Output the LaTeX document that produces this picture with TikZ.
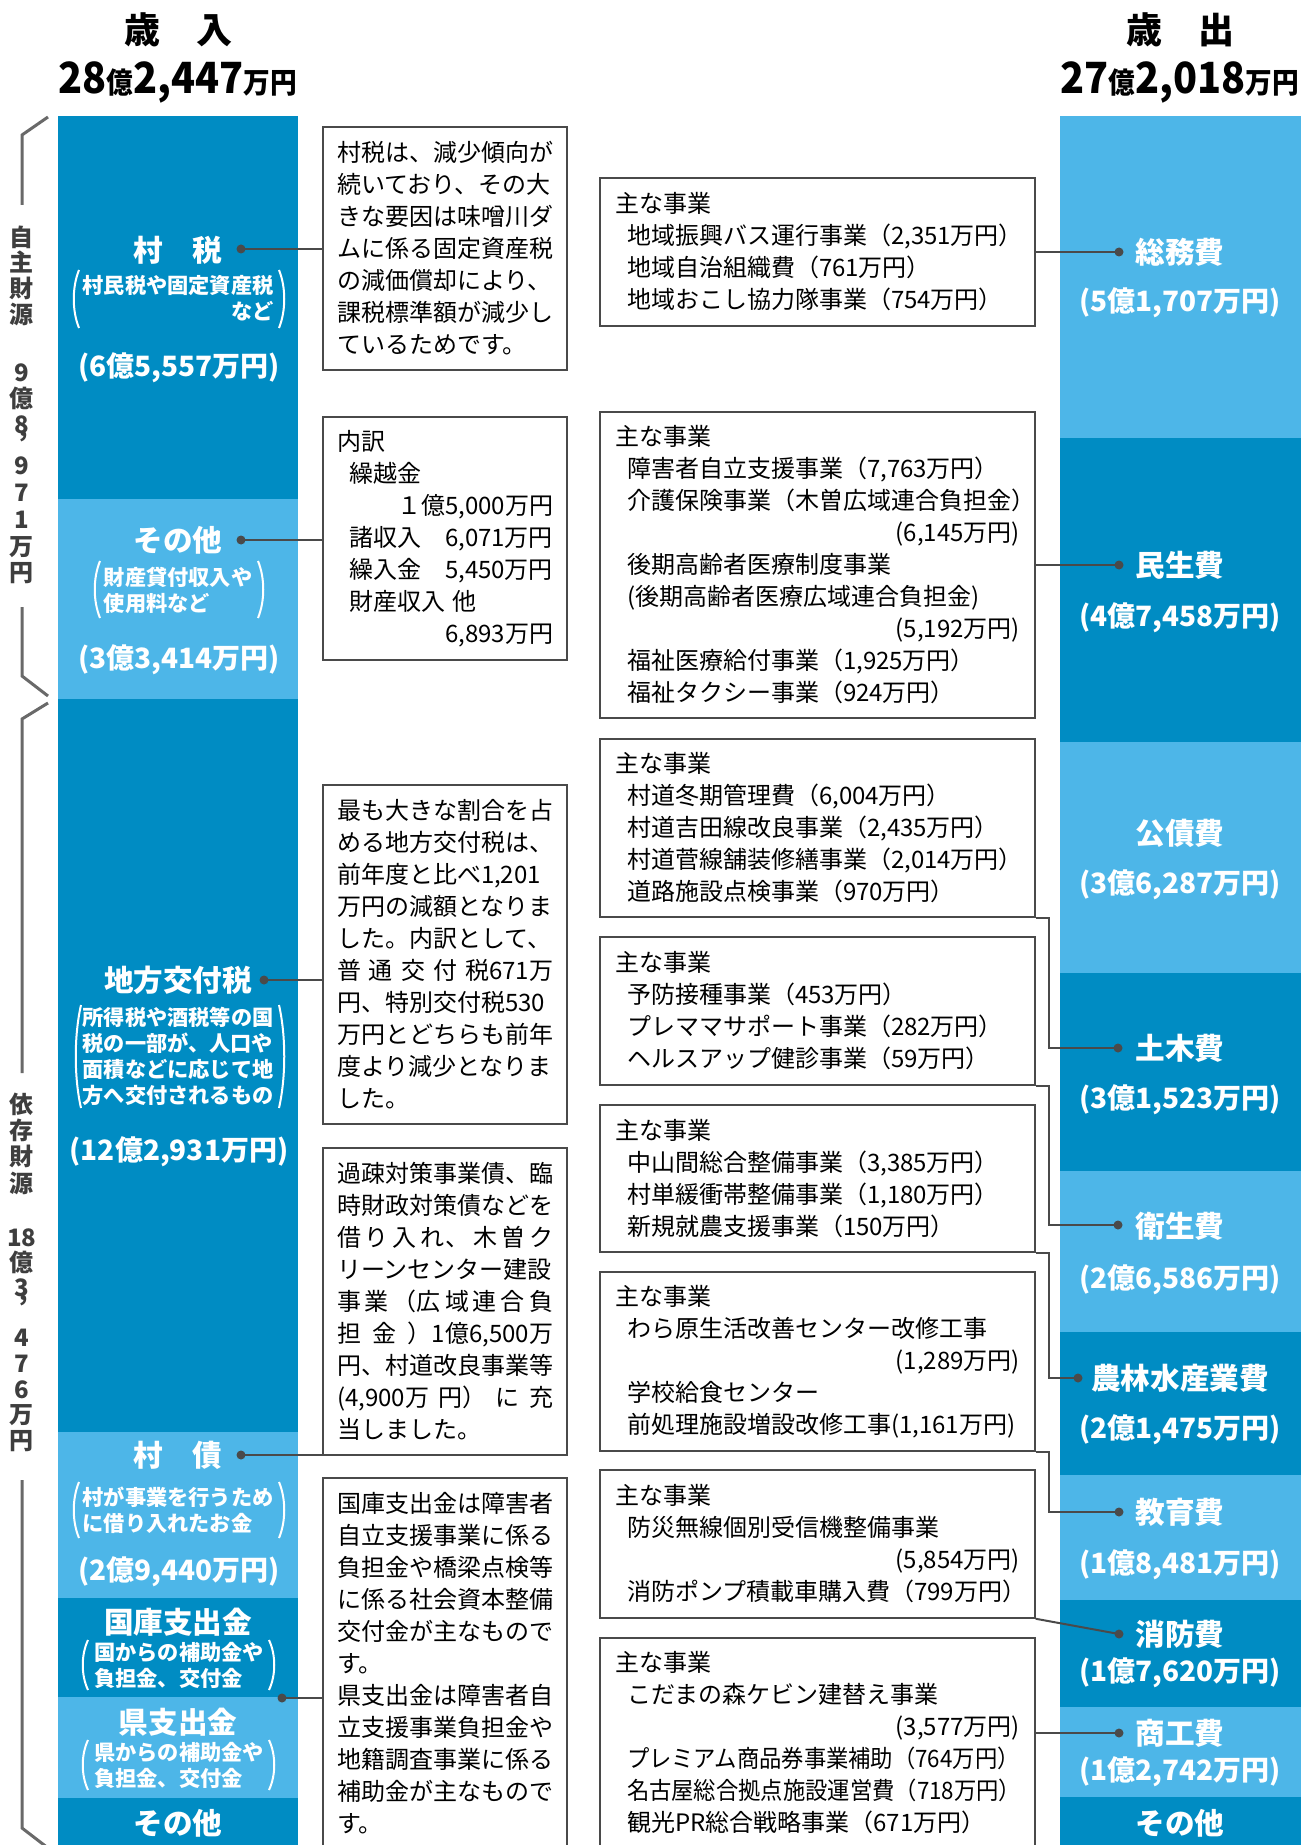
\documentclass[tikz,border=0pt]{standalone}
\usepackage{fontspec}
\usepackage{graphicx}
\setmainfont{Noto Sans CJK JP}
\usetikzlibrary{calc}
\definecolor{dk}{RGB}{0,140,195}
\definecolor{lt}{RGB}{77,182,232}
\definecolor{ln}{RGB}{74,74,74}
\definecolor{br}{RGB}{105,105,105}
\definecolor{vt}{RGB}{62,62,62}
\newcommand\ind{\hspace*{0.5em}}
\newcommand\rl[1]{\makebox[\linewidth][r]{#1}}
\newcommand\jl[1]{\makebox[\linewidth][s]{#1}}
\newcommand\cnd[1]{\scalebox{0.93}[1]{#1}}
\newcommand\bigparens[4]{%
  \draw[pp] ({#1+6},#3) .. controls ({#1-1},{#3+0.3*(#4-#3)}) and ({#1-1},{#4-0.3*(#4-#3)}) .. ({#1+6},#4);
  \draw[pp] ({#2-6},#3) .. controls ({#2+1},{#3+0.3*(#4-#3)}) and ({#2+1},{#4-0.3*(#4-#3)}) .. ({#2-6},#4);}
\newcommand\bignum[2]{\scalebox{0.92}[1]{{\fontsize{21.5}{22}\selectfont #1}{\fontsize{14.5}{15}\selectfont 億}{\fontsize{21.5}{22}\selectfont #2}{\fontsize{14.5}{15}\selectfont 万円}}}
\begin{document}
\begin{tikzpicture}[x=0.5pt,y=-0.5pt,
  note/.style={draw=ln, line width=0.75pt, fill=white, text width=108pt, minimum width=122pt,
    align=left, font=\fontsize{12}{16}\selectfont, inner sep=0pt},
  rnote/.style={note, text width=202.5pt, minimum width=217.5pt},
  lbl/.style={text=white, font=\bfseries\fontsize{14.8}{16}\selectfont, inner sep=0pt},
  sub/.style={text=white, font=\bfseries\fontsize{10.6}{13}\selectfont, inner sep=0pt},
  amt/.style={text=white, font=\bfseries\fontsize{14}{16}\selectfont, inner sep=0pt},
  vch/.style={text=vt, align=center, inner sep=0pt},
  hd/.style={text=black, inner sep=0pt},
  conn/.style={draw=ln, line width=1pt},
  brc/.style={draw=br, line width=1.5pt},
  pp/.style={draw=white, line width=1pt},
  dotm/.style={fill=ln}
]
\useasboundingbox (0,0) rectangle (1312,1845);
\clip (0,0) rectangle (1312,1845);
\fill[white] (0,0) rectangle (1312,1845);

% ---- headers
\node[hd, font=\bfseries\fontsize{18}{18}\selectfont] (hin) at (178,30) {歳　入};
\node[hd, font=\bfseries] (hintot) at (178,82) {\bignum{28}{2,447}};
\node[hd, font=\bfseries\fontsize{18}{18}\selectfont] (hout) at (1180,30) {歳　出};
\node[hd, font=\bfseries] (houttot) at (1180,82) {\bignum{27}{2,018}};

% ---- left column segments
\fill[dk] (58,116) rectangle (298,499);
\fill[lt] (58,499) rectangle (298,699);
\fill[dk] (58,699) rectangle (298,1432);
\fill[lt] (58,1432) rectangle (298,1598);
\fill[dk] (58,1598) rectangle (298,1697);
\fill[lt] (58,1697) rectangle (298,1798);
\fill[dk] (58,1798) rectangle (298,1850);

% ---- right column segments
\fill[lt] (1060,116) rectangle (1301,438);
\fill[dk] (1060,438) rectangle (1301,742);
\fill[lt] (1060,742) rectangle (1301,973);
\fill[dk] (1060,973) rectangle (1301,1171);
\fill[lt] (1060,1171) rectangle (1301,1332);
\fill[dk] (1060,1332) rectangle (1301,1475);
\fill[lt] (1060,1475) rectangle (1301,1600);
\fill[dk] (1060,1600) rectangle (1301,1707);
\fill[lt] (1060,1707) rectangle (1301,1797);
\fill[dk] (1060,1797) rectangle (1301,1850);

% ---- left braces and vertical text
\draw[brc] (48,117) -- (22,135) -- (22,205);
\draw[brc] (22,607) -- (22,676) -- (48,696);
\draw[brc] (48,703) -- (22,719) -- (22,1073);
\draw[brc] (22,1480) -- (22,1828) -- (48,1848);
\node[vch, font=\bfseries\fontsize{12}{12.85}\selectfont] (vjishu) at (22,275.5) {自\\主\\財\\源};
\node[vch, font=\bfseries\fontsize{12}{13}\selectfont] (vjs1) at (22,399) {9\\億\\8};
\node[vch, font=\bfseries\fontsize{12}{13}\selectfont] (vjsc) at (24,437) {,};
\node[vch, font=\bfseries\fontsize{12}{13.4}\selectfont] (vjs2) at (22,520.5) {9\\7\\1\\万\\円};
\node[vch, font=\bfseries\fontsize{12}{13.15}\selectfont] (vizon) at (22,1143.5) {依\\存\\財\\源};
\node[vch, font=\bfseries\fontsize{12}{12.5}\selectfont] (viz1) at (22,1263) {18\\億\\3};
\node[vch, font=\bfseries\fontsize{12}{13}\selectfont] (vizc) at (24,1301) {,};
\node[vch, font=\bfseries\fontsize{12}{12.875}\selectfont] (viz2) at (22,1390.5) {4\\7\\6\\万\\円};

% ---- left labels
\node[lbl] (zei) at (178,250) {村　税};
\node[sub, align=right] (zeis) at (178,298) {村民税や固定資産税\\など};
\bigparens{73}{285}{270}{328}
\node[amt] (zeia) at (179,368) {(6億5,557万円)};

\node[lbl] (sono) at (178,540) {その他};
\node[sub, align=left] (sonos) at (178,590) {財産貸付収入や\\使用料など};
\bigparens{94}{264}{561}{618}
\node[amt] (sonoa) at (179,660) {(3億3,414万円)};

\node[lbl] (chiho) at (178,980) {地方交付税};
\node[sub, align=left] (chihos) at (178,1056) {所得税や酒税等の国\\税の一部が、人口や\\面積などに応じて地\\方へ交付されるもの};
\bigparens{75}{285}{1005}{1108}
\node[amt] (chihoa) at (179,1152) {(12億2,931万円)};

\node[lbl] (son) at (178,1455) {村　債};
\node[sub, align=left] (sons) at (178,1510) {村が事業を行うため\\に借り入れたお金};
\bigparens{73}{285}{1482}{1538}
\node[amt] (sona) at (179,1572) {(2億9,440万円)};

\node[lbl] (koku) at (178,1622) {国庫支出金};
\node[sub, align=left] (kokus) at (179,1665) {国からの補助金や\\負担金、交付金};
\bigparens{82}{275}{1640}{1690}

\node[lbl] (ken) at (178,1722) {県支出金};
\node[sub, align=left] (kens) at (179,1765) {県からの補助金や\\負担金、交付金};
\bigparens{82}{275}{1740}{1790}

\node[lbl] (sono2) at (178,1823) {その他};

% ---- right labels
\node[lbl] (somu) at (1180,252) {総務費};
\node[amt] (somua) at (1180,303) {(5億1,707万円)};
\node[lbl] (minsei) at (1180,565) {民生費};
\node[amt] (minseia) at (1180,618) {(4億7,458万円)};
\node[lbl] (kosai) at (1180,833) {公債費};
\node[amt] (kosaia) at (1180,885) {(3億6,287万円)};
\node[lbl] (doboku) at (1180,1048) {土木費};
\node[amt] (dobokua) at (1180,1100) {(3億1,523万円)};
\node[lbl] (eisei) at (1180,1226) {衛生費};
\node[amt] (eiseia) at (1180,1280) {(2億6,586万円)};
\node[lbl] (norin) at (1180,1378) {農林水産業費};
\node[amt] (norina) at (1180,1430) {(2億1,475万円)};
\node[lbl] (kyoiku) at (1180,1512) {教育費};
\node[amt] (kyoikua) at (1180,1565) {(1億8,481万円)};
\node[lbl] (shobo) at (1180,1634) {消防費};
\node[amt] (shoboa) at (1180,1673) {(1億7,620万円)};
\node[lbl] (shoko) at (1180,1733) {商工費};
\node[amt] (shokoa) at (1180,1772) {(1億2,742万円)};
\node[lbl] (sono3) at (1180,1823) {その他};

% ---- left note boxes
\node[note, minimum height=121.5pt] (b1) at (445,248.5) {村税は、減少傾向が\\続いており、その大\\きな要因は味噌川ダ\\ムに係る固定資産税\\の減価償却により、\\課税標準額が減少し\\ているためです。};
\node[note, minimum height=121.5pt] (b2) at (445,538.5) {内訳\\\ind 繰越金\\\rl{１億5,000万円}\\\jl{\ind 諸収入\hfill 6,071万円}\\\jl{\ind 繰入金\hfill 5,450万円}\\\ind 財産収入 他\\\rl{6,893万円}};
\node[note, minimum height=169.5pt] (b3) at (445,954.5) {最も大きな割合を占\\める地方交付税は、\\前年度と比べ1,201\\万円の減額となりま\\した。内訳として、\\\jl{普\hfil 通\hfil 交\hfil 付\hfil 税671万}\\円、特別交付税530\\万円とどちらも前年\\度より減少となりま\\した。};
\node[note, minimum height=153.5pt] (b4) at (445,1301.5) {過疎対策事業債、臨\\時財政対策債などを\\\jl{借\hfil り\hfil 入\hfil れ、\hfil 木\hfil 曽\hfil ク}\\リーンセンター建設\\\jl{事\hfil 業\hfil （広\hfil 域\hfil 連\hfil 合\hfil 負}\\\jl{担\hfil 金\hfil ）1億6,500万}\\円、村道改良事業等\\\jl{(4,900万\hfil 円）\hfil に\hfil 充}\\当しました。};
\node[note, minimum height=185pt] (b5) at (445,1663) {国庫支出金は障害者\\自立支援事業に係る\\負担金や橋梁点検等\\に係る社会資本整備\\交付金が主なもので\\す。\\県支出金は障害者自\\立支援事業負担金や\\地籍調査事業に係る\\補助金が主なもので\\す。};

% ---- right note boxes
\node[rnote, minimum height=74pt] (r1) at (817.5,252) {主な事業\\\ind 地域振興バス運行事業（2,351万円）\\\ind 地域自治組織費（761万円）\\\ind 地域おこし協力隊事業（754万円）};
\node[rnote, minimum height=153pt] (r2) at (817.5,565) {主な事業\\\ind 障害者自立支援事業（7,763万円）\\\ind 介護保険事業（木曽広域連合負担金）\\\rl{(6,145万円)}\\\ind 後期高齢者医療制度事業\\\ind (後期高齢者医療広域連合負担金)\\\rl{(5,192万円)}\\\ind 福祉医療給付事業（1,925万円）\\\ind 福祉タクシー事業（924万円）};
\node[rnote, minimum height=89pt] (r3) at (817.5,828) {主な事業\\\ind 村道冬期管理費（6,004万円）\\\ind 村道吉田線改良事業（2,435万円）\\\ind 村道菅線舗装修繕事業（2,014万円）\\\ind 道路施設点検事業（970万円）};
\node[rnote, minimum height=74pt] (r4) at (817.5,1011) {主な事業\\\ind 予防接種事業（453万円）\\\ind プレママサポート事業（282万円）\\\ind ヘルスアップ健診事業（59万円）};
\node[rnote, minimum height=73.5pt] (r5) at (817.5,1178.5) {主な事業\\\ind 中山間総合整備事業（3,385万円）\\\ind 村単緩衝帯整備事業（1,180万円）\\\ind 新規就農支援事業（150万円）};
\node[rnote, minimum height=89.5pt] (r6) at (817.5,1361.5) {主な事業\\\ind わら原生活改善センター改修工事\\\rl{(1,289万円)}\\\ind 学校給食センター\\\ind 前処理施設増設改修工事(1,161万円)};
\node[rnote, minimum height=74pt] (r7) at (817.5,1544) {主な事業\\\ind 防災無線個別受信機整備事業\\\rl{(5,854万円)}\\\ind 消防ポンプ積載車購入費（799万円）};
\node[rnote, minimum height=105pt] (r8) at (817.5,1743) {主な事業\\\ind こだまの森ケビン建替え事業\\\rl{(3,577万円)}\\\ind \cnd{プレミアム商品券事業補助（764万円）}\\\ind \cnd{名古屋総合拠点施設運営費（718万円）}\\\ind 観光PR総合戦略事業（671万円）};

% ---- connector end points
\coordinate (dzei) at (241,249);
\coordinate (dsono) at (241,540);
\coordinate (dchiho) at (264,980);
\coordinate (dson) at (241,1455);
\coordinate (dkoku) at (282,1698);
\coordinate (dsomu) at (1119,252);
\coordinate (dminsei) at (1119,565);
\coordinate (ddoboku) at (1118,1048);
\coordinate (deisei) at (1118,1225);
\coordinate (dnorin) at (1078,1378);
\coordinate (dkyoiku) at (1119,1512);
\coordinate (dshobo) at (1119,1634);
\coordinate (dshoko) at (1119,1733);

% ---- connectors
\draw[conn] (dzei) -- (b1.west |- dzei);
\draw[conn] (dsono) -- (b2.west |- dsono);
\draw[conn] (dchiho) -- (b3.west |- dchiho);
\draw[conn] (dson) -- (b4.west |- dson);
\draw[conn] (dkoku) -- (b5.west |- dkoku);
\draw[conn] (r1.east) -- (dsomu);
\draw[conn] (r2.east) -- (dminsei);
\draw[conn] (r3.south east) -- ++(13,0) |- (ddoboku);
\draw[conn] (r4.south east) -- ++(13,0) |- (deisei);
\draw[conn] (r5.south east) -- ++(13,0) |- (dnorin);
\draw[conn] (r6.south east) -- ++(13,0) |- (dkyoiku);
\draw[conn] (r7.south east) -- (dshobo);
\draw[conn] (r8.east |- dshoko) -- (dshoko);
\foreach \p in {dzei,dsono,dchiho,dson,dkoku,dsomu,dminsei,ddoboku,deisei,dnorin,dkyoiku,dshobo,dshoko}
  {\fill[dotm] (\p) circle (4.5);}
\end{tikzpicture}
\end{document}
